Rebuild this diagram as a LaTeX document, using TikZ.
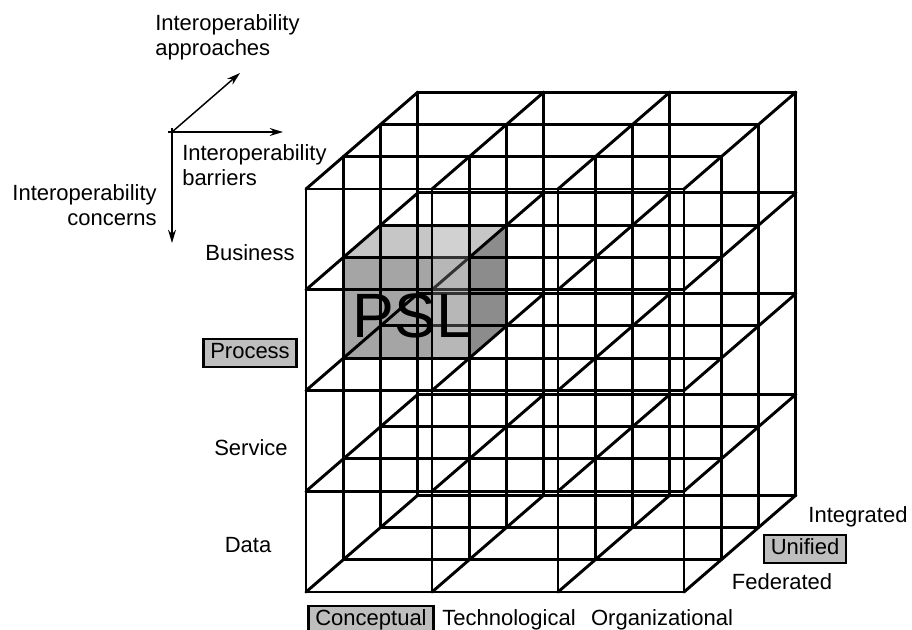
\documentclass[tikz,border=0pt]{standalone}
\usepackage{fontspec}
\setmainfont{Liberation Sans}
\usetikzlibrary{arrows.meta}

\definecolor{boxgray}{HTML}{BEBEBE}
\definecolor{topgray}{HTML}{C6C6C6}
\definecolor{frontgray}{HTML}{A5A5A5}
\definecolor{sidegray}{HTML}{8C8C8C}

\tikzset{
  txt/.style={font=\fontsize{16.5}{19}\selectfont, inner sep=0pt, text height=12pt, text depth=3.5pt},
  twoline/.style={font=\fontsize{16.5}{19}\selectfont, inner sep=0pt},
  box/.style={txt, draw, line width=1.8pt, fill=boxgray, inner xsep=5pt, inner ysep=2.6pt},
  wire/.style={line width=2.2pt, line cap=round},
  axis/.style={line width=1.1pt, -{Stealth[length=10pt, width=6pt]}}
}

\begin{document}
\begin{tikzpicture}[x=0.75pt, y=-0.75pt]
    \fill[white] (0,0) rectangle (912,630);
    \useasboundingbox (0,0) rectangle (912,630);

    % Define the axes
    \coordinate (origin) at (172,132);
    \coordinate (approachEnd) at (240,73);
    \coordinate (barrierEnd) at (283,132);
    \coordinate (concernEnd) at (172,243);

    \draw[axis] (origin) -- (approachEnd);
    \draw[axis, shorten <=-3pt] (origin) -- (barrierEnd);
    \draw[axis, shorten <=-3pt] (origin) -- (concernEnd);

    \node[twoline, anchor=west, align=left] (approaches) at (155,37) {Interoperability\\approaches};
    \node[twoline, anchor=west, align=left] (barriers) at (182,165) {Interoperability\\barriers};
    \node[twoline, anchor=east, align=right] (concerns) at (157,205) {Interoperability\\concerns};

    % The grid of 3 x 4 x 3 cells
    \begin{scope}[shift={(306,592)}, x={(94.5pt,0pt)}, y={(0pt,75.5625pt)}, z={(27.975pt,24.225pt)}]
        % PSL cell
        \fill[frontgray] (0,2,1) -- (1,2,1) -- (1,3,1) -- (0,3,1) -- cycle;
        \fill[topgray] (0,3,1) -- (1,3,1) -- (1,3,2) -- (0,3,2) -- cycle;
        \fill[sidegray] (1,2,1) -- (1,2,2) -- (1,3,2) -- (1,3,1) -- cycle;

        \foreach \k in {0,...,3} {
            \foreach \j in {0,...,4}
                \draw[wire] (0,\j,\k) -- (3,\j,\k);
            \foreach \i in {0,...,3}
                \draw[wire] (\i,0,\k) -- (\i,4,\k);
        }
        \foreach \i in {0,...,3}
            \foreach \j in {0,...,4}
                \draw[wire] (\i,\j,0) -- (\i,\j,3);
    \end{scope}
    \fill[white, opacity=0.2] (433,228) rectangle (468,357);

    \node[font=\fontsize{47}{50}\selectfont, inner sep=0pt] (psl) at (412,316) {PSL};

    % Concerns
    \node[txt] (business) at (250,255) {Business};
    \node[box] (process) at (250,353) {Process};
    \node[txt] (service) at (251,450) {Service};
    \node[txt] (data) at (248,547) {Data};

    % Barriers
    \node[box] (conceptual) at (371,620) {Conceptual};
    \node[txt] (technological) at (509,620) {Technological};
    \node[txt] (organizational) at (662,620) {Organizational};

    % Approaches
    \node[txt] (integrated) at (858,517) {Integrated};
    \node[box] (unified) at (805,549) {Unified};
    \node[txt] (federated) at (782,584) {Federated};
\end{tikzpicture}
\end{document}
